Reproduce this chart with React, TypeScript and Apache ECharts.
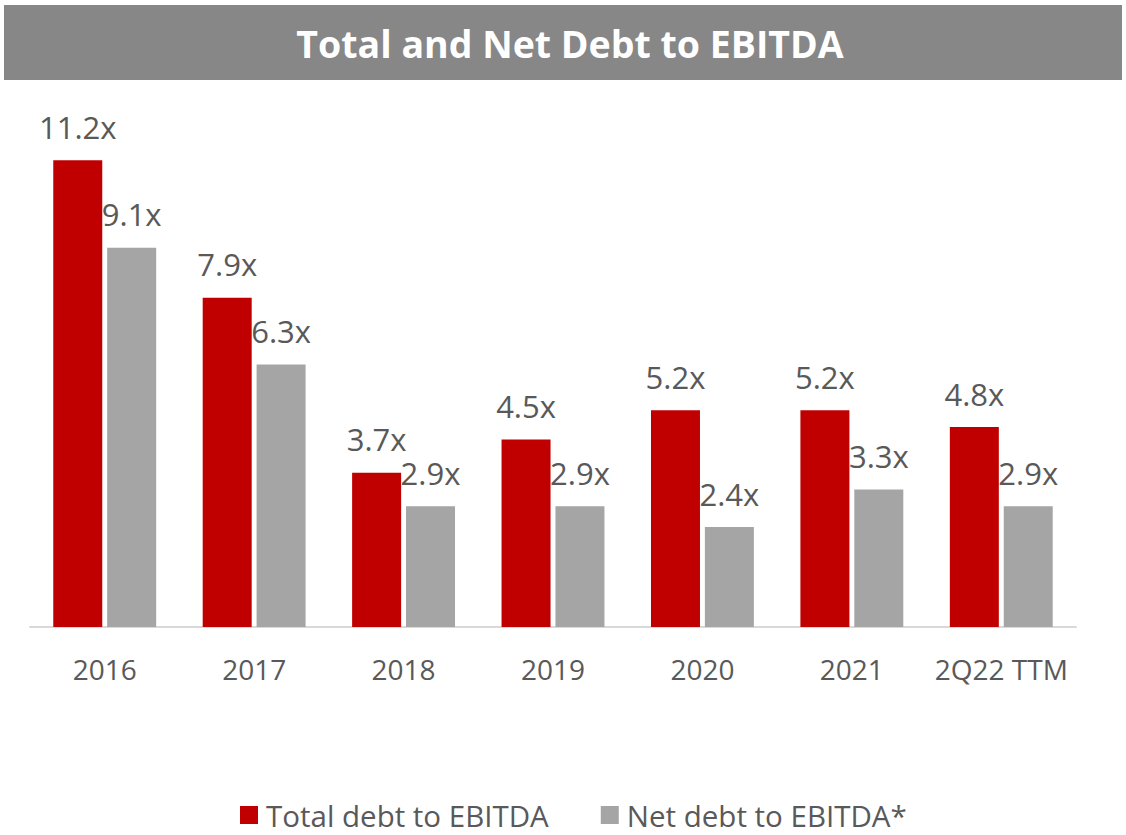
import React, { useEffect, useRef } from "react";
import * as echarts from "echarts";

const categories = ["2016", "2017", "2018", "2019", "2020", "2021", "2Q22 TTM"];
const totalDebt = [11.2, 7.9, 3.7, 4.5, 5.2, 5.2, 4.8];
const netDebt = [9.1, 6.3, 2.9, 2.9, 2.4, 3.3, 2.9];
const seriesNames = ["Total debt to EBITDA", "Net debt to EBITDA*"];
const titleText = "Total and Net Debt to EBITDA";

const FONT = "'Open Sans', 'Noto Sans', sans-serif";

export default function App() {
  const ref = useRef<HTMLDivElement>(null);
  useEffect(() => {
    document.body.style.margin = "0";
    const chart = echarts.init(ref.current!, null, { renderer: "svg" });
    const label = {
      show: true,
      position: "top",
      distance: 18,
      color: "#595959",
      fontSize: 31,
      fontFamily: FONT,
      formatter: (p: any) => p.value.toFixed(1) + "x",
    };
    chart.setOption({
      animation: false,
      textStyle: { fontFamily: FONT },
      graphic: [
        {
          type: "rect",
          left: 4,
          top: 5,
          shape: { width: 1118, height: 75 },
          style: { fill: "#878787" },
          z: 0,
        },
        {
          type: "text",
          x: 570,
          y: 43,
          style: {
            text: titleText,
            fill: "#ffffff",
            font: `bold 37.5px ${FONT}`,
            align: "center",
            verticalAlign: "middle",
          },
          z: 1,
        },
      ],
      legend: {
        bottom: 0,
        left: 235,
        itemWidth: 18,
        itemHeight: 18,
        itemGap: 52,
        icon: "rect",
        textStyle: { color: "#595959", fontSize: 29.5, fontFamily: FONT, padding: [0, 0, 0, 3] },
        data: seriesNames,
      },
      grid: { left: 30, right: 50, top: 127, bottom: 208, containLabel: false },
      xAxis: {
        type: "category",
        data: categories,
        axisLine: { lineStyle: { color: "#d9d9d9", width: 2 } },
        axisTick: { show: false },
        axisLabel: { color: "#595959", fontSize: 28, margin: 28, interval: 0, fontFamily: FONT },
      },
      yAxis: {
        type: "value",
        min: 0,
        max: 12,
        show: false,
        splitLine: { show: false },
      },
      series: [
        {
          name: seriesNames[0],
          type: "bar",
          data: totalDebt,
          barWidth: 49,
          barGap: "10%",
          itemStyle: { color: "#c00000" },
          label,
        },
        {
          name: seriesNames[1],
          type: "bar",
          data: netDebt,
          barWidth: 49,
          itemStyle: { color: "#a5a5a5" },
          label,
        },
      ],
    });
    return () => chart.dispose();
  }, []);
  return <div ref={ref} style={{ width: 1126, height: 835 }} />;
}
